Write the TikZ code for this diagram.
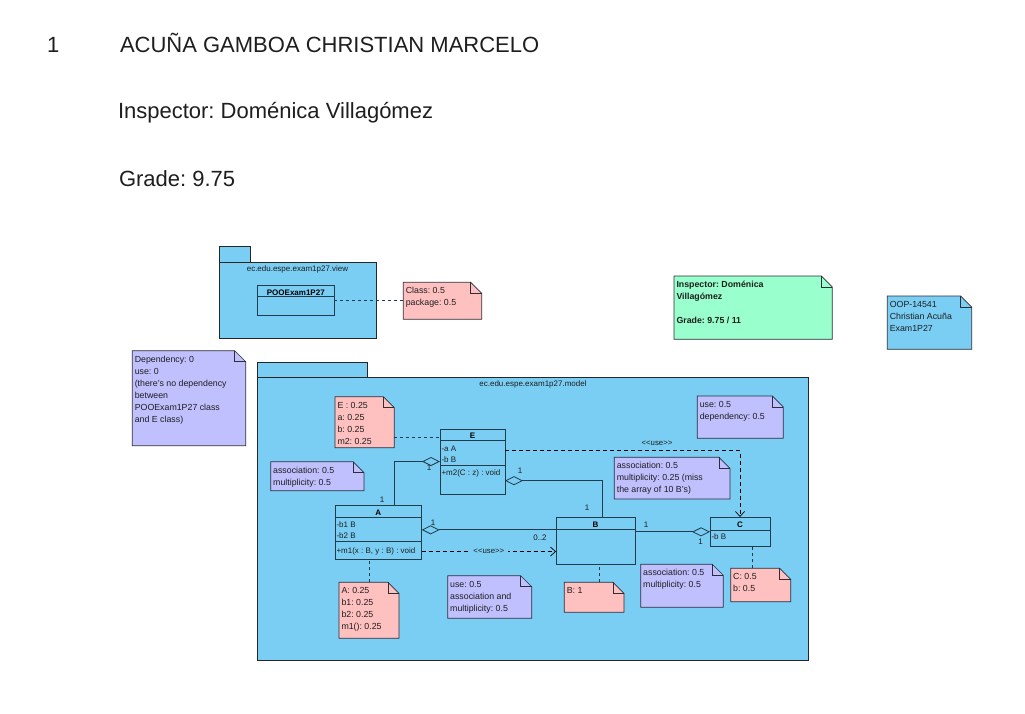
\documentclass[tikz,border=0pt]{standalone}
\usepackage{fontspec}
\setmainfont{Liberation Sans}
\usetikzlibrary{arrows.meta,calc}
\definecolor{pkg}{RGB}{122,206,244}
\definecolor{pinkn}{RGB}{255,192,192}
\definecolor{purpn}{RGB}{192,192,255}
\definecolor{greenn}{RGB}{153,255,204}
\definecolor{clsbd}{RGB}{35,60,75}
\definecolor{notebd}{RGB}{45,45,55}
\definecolor{txt}{RGB}{30,30,30}
\frenchspacing
\newcommand\fl{\rule{0pt}{11.5pt}}
\newcommand\stuse{<\kern0pt<use>\kern0pt>}
\newcommand\umlnote[7]{%
  \node[notebody, minimum width=#4pt, minimum height=#5pt] (#1) at (#2,#3) {};
  \filldraw[notebd, fill=#6] (#1.north west) -- ([xshift=-11pt]#1.north east) -- ([yshift=-11pt]#1.north east) -- (#1.south east) -- (#1.south west) -- cycle;
  \draw[notebd] ([xshift=-11pt]#1.north east) |- ([yshift=-11pt]#1.north east);
  \node[notetext] (#1-t) at (#1.north west) {\fl #7};}
\begin{document}
\begin{tikzpicture}[x=1pt,y=-1pt,
  every node/.style={inner sep=0pt, outer sep=0pt},
  notebody/.style={anchor=north west, draw=none},
  notebd/.style={draw=notebd, line width=0.7pt},
  notetext/.style={anchor=north west, inner xsep=2.5pt, inner ysep=0pt, align=left, text=txt, font=\fontsize{8.8}{12}\selectfont},
  big/.style={anchor=base west, text=txt, font=\fontsize{22}{26}\selectfont},
  pkgbox/.style={anchor=north west, draw=black!85, fill=pkg, line width=0.8pt},
  pkglabel/.style={text=txt, font=\fontsize{8}{10}\selectfont},
  clsbox/.style={anchor=north west, draw=clsbd, line width=0.8pt},
  sepline/.style={draw=clsbd, line width=0.8pt},
  clshead/.style={anchor=base, text=black, font=\fontsize{8}{10}\selectfont\bfseries},
  clstext/.style={anchor=base west, text=txt, font=\fontsize{8}{10}\selectfont},
  mult/.style={text=txt, font=\fontsize{8}{10}\selectfont},
  stereo/.style={text=txt, font=\fontsize{7.8}{9}\selectfont},
  agg/.tip={Diamond[open, length=18pt, width=9pt]},
  assoc/.style={draw=clsbd, line width=0.8pt},
  usedep/.style={draw=black, dash pattern=on 4pt off 3pt, line width=0.7pt, -{Straight Barb[length=5pt,width=9pt]}},
  notelink/.style={draw=clsbd, dash pattern=on 3pt off 3pt, line width=0.8pt}]
\useasboundingbox (0,0) rectangle (1025,714);

% header
\node[big] (num) at (47,53) {1};
\node[big] (name) at (120,53) {ACUÑA GAMBOA CHRISTIAN MARCELO};
\node[big] (insp) at (118,119) {Inspector: Doménica Villagómez};
\node[big] (grade) at (119,186) {Grade: 9.75};

% view package
\node[pkgbox, minimum width=31.7pt, minimum height=15.6pt] (viewtab) at (219,246.7) {};
\node[pkgbox, minimum width=157.7pt, minimum height=76pt] (viewpkg) at (219,262.3) {};
\node[pkglabel] (viewlbl) at (297.5,269.3) {ec.edu.espe.exam1p27.view};
\node[clsbox, minimum width=77pt, minimum height=30pt] (POO) at (257.3,285.7) {};
\draw[sepline] ([yshift=-11pt]POO.north west) -- ([yshift=-11pt]POO.north east);
\node[clshead] (POO-h) at ($(POO.north)+(0,9.6)$) {POOExam1P27};

\umlnote{classnote}{403.3}{282.3}{78.4}{37}{pinkn}{Class: 0.5\\package: 0.5}
\draw[notelink] (POO.east) -- (POO.east -| classnote.west);

% top notes
\umlnote{green}{674}{276}{158.3}{63.3}{greenn}{\bfseries Inspector: Doménica\\\bfseries Villagómez\\[12pt]\bfseries Grade: 9.75 / 11}
\umlnote{blue}{887.3}{296}{84.4}{53.3}{pkg}{OOP-14541\\Christian Acuña\\Exam1P27}
\umlnote{dep}{132.3}{350.7}{113.4}{95}{purpn}{Dependency: 0\\use: 0\\(there's no dependency\\between\\POOExam1P27 class\\and E class)}

% model package
\node[pkgbox, minimum width=110pt, minimum height=15pt] (modeltab) at (257.3,362.3) {};
\node[pkgbox, minimum width=550.7pt, minimum height=282.7pt] (modelpkg) at (257.3,377.3) {};
\node[pkglabel] (modellbl) at (533,384) {ec.edu.espe.exam1p27.model};

% classes
\node[clsbox, minimum width=65pt, minimum height=65pt] (E) at (440,429) {};
\draw[sepline] ([yshift=-11.7pt]E.north west) -- ([yshift=-11.7pt]E.north east);
\draw[sepline] ([yshift=-36.7pt]E.north west) -- ([yshift=-36.7pt]E.north east);
\node[clshead] (E-h) at ($(E.north)+(0,9)$) {E};
\node[clstext] (E-a) at ($(E.north west)+(1.5,22.3)$) {-a A};
\node[clstext] (E-b) at ($(E.north west)+(1.5,33.3)$) {-b B};
\node[clstext] (E-m) at ($(E.north west)+(1.5,46.7)$) {+m2(C : z) : void};

\node[clsbox, minimum width=86.7pt, minimum height=53.3pt] (A) at (335,505.7) {};
\draw[sepline] ([yshift=-11.3pt]A.north west) -- ([yshift=-11.3pt]A.north east);
\draw[sepline] ([yshift=-35.8pt]A.north west) -- ([yshift=-35.8pt]A.north east);
\node[clshead] (A-h) at ($(A.north)+(0,9.6)$) {A};
\node[clstext] (A-b1) at ($(A.north west)+(1.5,21.6)$) {-b1 B};
\node[clstext] (A-b2) at ($(A.north west)+(1.5,32.3)$) {-b2 B};
\node[clstext] (A-m) at ($(A.north west)+(1.5,47.3)$) {+m1(x : B, y : B) : void};

\node[clsbox, minimum width=79pt, minimum height=47pt] (B) at (556,517) {};
\draw[sepline] ([yshift=-12pt]B.north west) -- ([yshift=-12pt]B.north east);
\node[clshead] (B-h) at ($(B.north)+(0,10)$) {B};

\node[clsbox, minimum width=60pt, minimum height=29.7pt] (C) at (710,517) {};
\draw[sepline] ([yshift=-13pt]C.north west) -- ([yshift=-13pt]C.north east);
\node[clshead] (C-h) at ($(C.north)+(0,10)$) {C};
\node[clstext] (C-b) at ($(C.north west)+(1.5,22.7)$) {-b B};

% notes in model
\umlnote{Enote}{335}{396.7}{59.3}{51}{pinkn}{E : 0.25\\a: 0.25\\b: 0.25\\m2: 0.25}
\umlnote{assocL}{270.7}{461.7}{93.3}{29}{purpn}{association: 0.5\\multiplicity: 0.5}
\umlnote{usedepn}{697.3}{396}{86}{42.3}{purpn}{use: 0.5\\dependency: 0.5}
\umlnote{assocEB}{614.3}{457.3}{115.7}{41.7}{purpn}{association: 0.5\\multiplicity: 0.25 (miss\\the array of 10 B's)}
\umlnote{Anote}{339}{582.3}{60}{56}{pinkn}{A: 0.25\\b1: 0.25\\b2: 0.25\\m1(): 0.25}
\umlnote{useAB}{447.7}{575.7}{84}{42.6}{purpn}{use: 0.5\\association and\\multiplicity: 0.5}
\umlnote{Bnote}{564.3}{582.3}{59.7}{30}{pinkn}{B: 1}
\umlnote{assocBC}{640.7}{564.3}{82.6}{43}{purpn}{association: 0.5\\multiplicity: 0.5}
\umlnote{Cnote}{730.7}{568.3}{60}{33.4}{pinkn}{C: 0.5\\b: 0.5}

% note links
\coordinate (enl) at ($(Enote.east)+(0,14.7)$);
\draw[notelink] (enl) -- (enl -| E.west);
\coordinate (anl) at ($(Anote.north)+(0.3,0)$);
\draw[notelink] (anl) -- (anl |- A.south);
\coordinate (bnl) at ($(Bnote.north)+(4.9,0)$);
\draw[notelink] (bnl) -- (bnl |- B.south);
\coordinate (cnl) at ($(Cnote.north)+(-8.7,0)$);
\draw[notelink] (cnl) -- (cnl |- C.south);

% associations
\draw[assoc, agg-] (E.west) -| ($(A.north)+(15.7,0)$);
\draw[assoc, agg-] ($(E.east)+(0,19.2)$) -| ($(B.north)+(6.5,0)$);
\coordinate (ab) at ($(A.east)+(0,-2.5)$);
\draw[assoc, agg-] (ab) -- (ab -| B.west);
\draw[assoc, agg-] (C.west) -- (C.west -| B.east);

% use dependencies
\coordinate (ub) at ($(A.east)+(0,19.2)$);
\draw[usedep] (ub) -- (ub -| B.west) node[midway, stereo, fill=pkg, inner xsep=4pt, inner ysep=1pt] (use1) {\stuse};
\coordinate (uc) at ($(E.east)+(0,-10.8)$);
\draw[usedep] (uc) -| (C.north);
\node[stereo] (use2) at (657,443) {\stuse};

% multiplicities
\node[mult] (m1) at (382,500) {1};
\node[mult] (m2) at (429,468) {1};
\node[mult] (m3) at (433,523) {1};
\node[mult] (m4) at (540,537.3) {0..2};
\node[mult] (m5) at (520,471) {1};
\node[mult] (m6) at (587,508) {1};
\node[mult] (m7) at (646,525) {1};
\node[mult] (m8) at (700.7,542) {1};
\end{tikzpicture}
\end{document}
